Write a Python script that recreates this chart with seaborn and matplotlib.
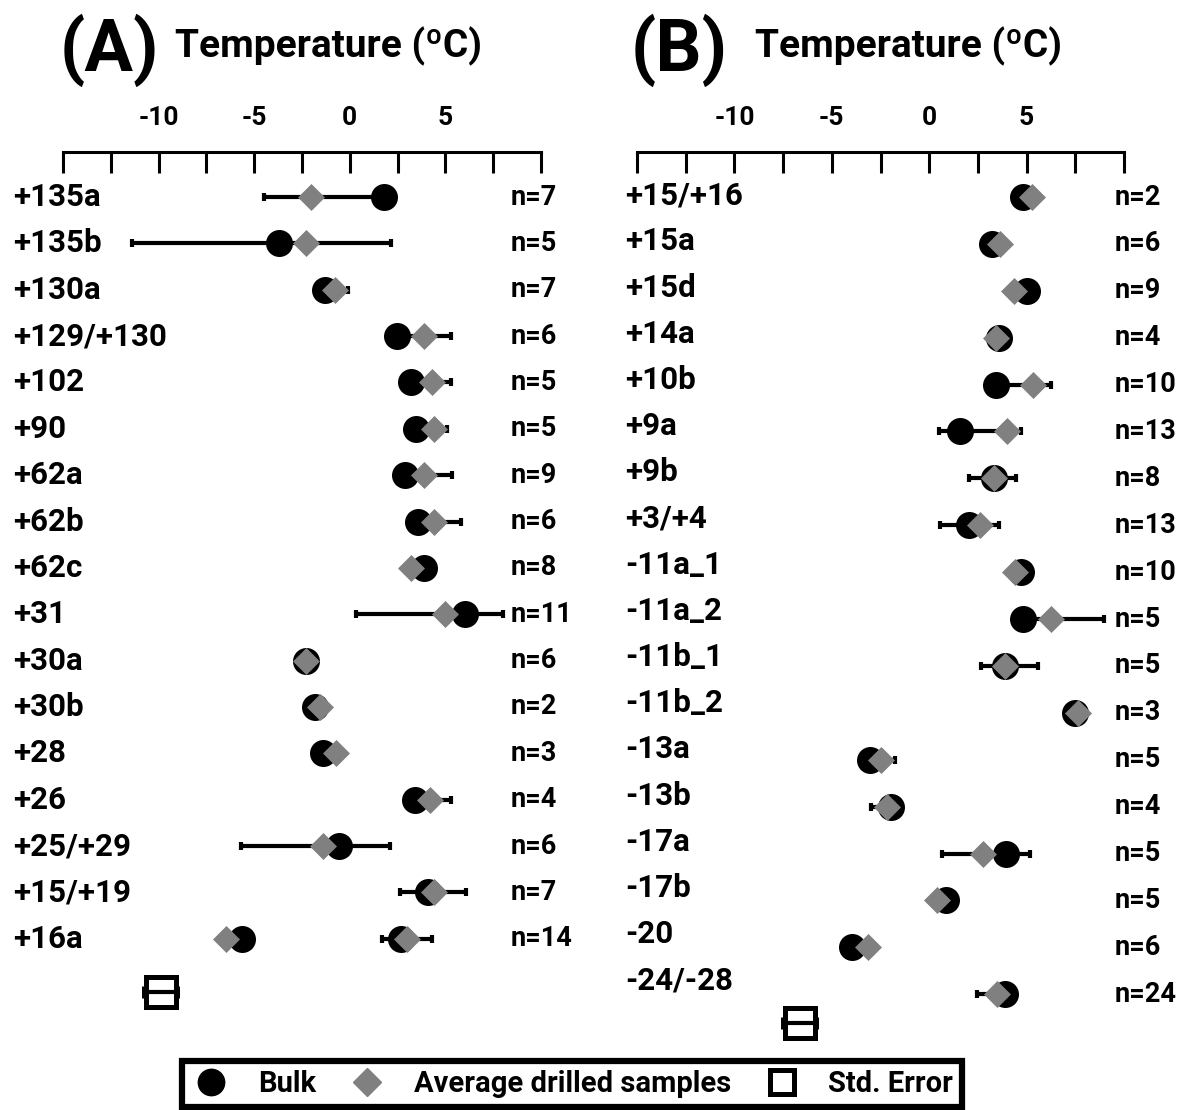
import numpy as np
import pandas as pd
import matplotlib
matplotlib.use("Agg")
import matplotlib.pyplot as plt
import matplotlib.transforms as mtransforms
from matplotlib.lines import Line2D
import seaborn as sns

nan = np.nan

# ---- Panel A -------------------------------------------------------------
labels_a = ["+135a", "+135b", "+130a", "+129/+130", "+102", "+90", "+62a", "+62b",
            "+62c", "+31", "+30a", "+30b", "+28", "+26", "+25/+29", "+15/+19", "+16a"]
n_a = [7, 5, 7, 6, 5, 5, 9, 6, 8, 11, 6, 2, 3, 4, 6, 7, 14]
bulk_a = [1.8, -3.7, -1.3, 2.45, 3.2, 3.45, 2.9, 3.55, 3.9, 6.0, -2.3, -1.8,
          -1.4, 3.4, -0.55, 4.1, 2.7]
drill_a = [-2.05, -2.3, -0.8, 3.9, 4.3, 4.4, 3.9, 4.4, 3.2, 5.0, -2.3, -1.55,
           -0.7, 4.2, -1.4, 4.4, 3.0]
err_lo_a = [-4.5, -11.4, -1.3, 2.5, 3.2, 3.5, 2.9, 3.6, nan, 0.3, nan, nan,
            nan, 3.4, -5.7, 2.6, 1.7]
err_hi_a = [1.7, 2.15, -0.1, 5.3, 5.3, 5.1, 5.35, 5.8, nan, 8.0, nan, nan,
            nan, 5.3, 2.1, 6.1, 4.3]
# second measurement pair on the same horizon
extra_labels_a = ["+16a"]
extra_bulk_a = [-5.65]
extra_drill_a = [-6.45]
std_err_key_a = -9.9

# ---- Panel B -------------------------------------------------------------
labels_b = ["+15/+16", "+15a", "+15d", "+14a", "+10b", "+9a", "+9b", "+3/+4",
            "-11a_1", "-11a_2", "-11b_1", "-11b_2", "-13a", "-13b", "-17a",
            "-17b", "-20", "-24/-28"]
n_b = [2, 6, 9, 4, 10, 13, 8, 13, 10, 5, 5, 3, 5, 4, 5, 5, 6, 24]
bulk_b = [4.8, 3.2, 5.0, 3.6, 3.45, 1.6, 3.35, 2.05, 4.7, 4.8, 3.9, 7.5,
          -3.05, -1.95, 3.95, 0.85, -3.95, 3.9]
drill_b = [5.3, 3.65, 4.35, 3.45, 5.35, 4.0, 3.35, 2.6, 4.4, 6.25, 3.9, 7.65,
           -2.45, -2.15, 2.75, 0.4, -3.15, 3.5]
err_lo_b = [nan, nan, nan, nan, 3.5, 0.5, 2.05, 0.55, nan, 4.9, 2.65, nan,
            -3.0, -3.0, 0.65, nan, nan, 2.45]
err_hi_b = [nan, nan, nan, nan, 6.25, 4.7, 4.45, 3.6, nan, 8.95, 5.6, nan,
            -1.75, -2.0, 5.2, nan, nan, 3.9]
extra_labels_b = []
extra_bulk_b = []
extra_drill_b = []
std_err_key_b = -6.65

tick_values = np.arange(-15, 10.01, 2.5)
tick_labels = {-10: "-10", -5: "-5", 0: "0", 5: "5"}
legend_labels = ["Bulk", "Average drilled samples", "Std. Error"]

BULK_COLOR = "black"
DRILL_COLOR = "#808080"

sns.set_theme(style="white")
plt.rcParams["font.family"] = ["Roboto", "DejaVu Sans"]
plt.rcParams["font.weight"] = "bold"
plt.rcParams["axes.unicode_minus"] = False
plt.rcParams["text.color"] = "black"
plt.rcParams["xtick.color"] = "black"
plt.rcParams["axes.labelcolor"] = "black"

W, H = 1195, 1110
fig = plt.figure(figsize=(W / 100, H / 100), dpi=100)


def draw_panel(ax, labels, n, bulk, drill, lo, hi, ex_labels, ex_bulk, ex_drill,
               key_x, key_row, ylim, label_shift, label_x, n_x):
    rows = np.arange(len(labels), dtype=float)
    idx = {lab: i for i, lab in enumerate(labels)}

    # error bars underneath the symbols
    lo = np.asarray(lo, float)
    hi = np.asarray(hi, float)
    m = ~np.isnan(lo)
    ax.errorbar((lo[m] + hi[m]) / 2, rows[m], xerr=(hi[m] - lo[m]) / 2,
                fmt="none", ecolor="black", elinewidth=3.0, capsize=2.8,
                capthick=3.0, zorder=1)

    ex_rows = [idx[l] for l in ex_labels]
    df_bulk = pd.DataFrame({"temp": list(bulk) + list(ex_bulk),
                            "row": list(rows) + ex_rows})
    df_drill = pd.DataFrame({"temp": list(drill) + list(ex_drill),
                             "row": list(rows) + ex_rows})
    sns.scatterplot(data=df_bulk, x="temp", y="row", color=BULK_COLOR, marker="o",
                    s=378, linewidth=0, ax=ax, zorder=2, legend=False)
    sns.scatterplot(data=df_drill, x="temp", y="row", color=DRILL_COLOR, marker="D",
                    s=189, linewidth=0, ax=ax, zorder=3, legend=False)

    # standard error key symbol
    ax.errorbar([key_x], [key_row], xerr=[0.86], fmt="s", ms=21, mfc="none",
                mec="black", mew=3.6, ecolor="black", elinewidth=3.0, capsize=4,
                capthick=3.0, clip_on=False, zorder=4)

    ax.set_xlim(-15, 10)
    ax.set_ylim(*ylim)
    ax.set_xlabel("")
    ax.set_ylabel("")
    ax.set_yticks([])
    ax.xaxis.tick_top()
    ax.set_xticks(tick_values)
    ax.set_xticklabels([tick_labels.get(int(t) if float(t).is_integer() else None, "")
                        for t in tick_values])
    ax.tick_params(axis="x", direction="in", length=15, width=2.2, pad=16,
                   labelsize=19, top=True, bottom=False, labeltop=True,
                   labelbottom=False)
    for lab in ax.get_xticklabels():
        lab.set_fontweight("bold")
    for side in ["bottom", "left", "right"]:
        ax.spines[side].set_visible(False)
    ax.spines["top"].set_linewidth(2.2)
    ax.spines["top"].set_color("black")

    trans = mtransforms.blended_transform_factory(ax.transAxes, ax.transData)
    for i, (lab, cnt) in enumerate(zip(labels, n)):
        ax.text(label_x, label_shift(i), lab, transform=trans, ha="left",
                va="center", fontsize=22.5, fontweight="bold", clip_on=False)
        ax.text(n_x, i, f"n={cnt}", transform=trans, ha="left", va="center",
                fontsize=19.5, fontweight="bold", clip_on=False)


ax_a = fig.add_axes([63 / W, 1 - 1050 / H, 478 / W, (1050 - 152) / H])
ax_b = fig.add_axes([637 / W, 1 - 1050 / H, 487 / W, (1050 - 152) / H])

draw_panel(ax_a, labels_a, n_a, bulk_a, drill_a, err_lo_a, err_hi_a,
           extra_labels_a, extra_bulk_a, extra_drill_a,
           std_err_key_a, 17.15, (18.40, -0.972), lambda i: i, -0.1046, 0.937)
draw_panel(ax_b, labels_b, n_b, bulk_b, drill_b, err_lo_b, err_hi_b,
           extra_labels_b, extra_bulk_b, extra_drill_b,
           std_err_key_b, 17.62, (18.19, -0.96), lambda i: -0.04 + 0.985 * i,
           -0.0246, 0.981)

# panel letters and axis titles
for x_letter, letter, x_title in [(60, "(A)", 175), (631, "(B)", 755)]:
    fig.text(x_letter / W, 1 - 50 / H, letter, fontsize=52, fontweight="bold",
             ha="left", va="center")
    fig.text(x_title / W, 1 - 46 / H, "Temperature (ºC)", fontsize=28,
             fontweight="bold", ha="left", va="center")

handles = [
    Line2D([], [], marker="o", color=BULK_COLOR, linestyle="none", markersize=19),
    Line2D([], [], marker="D", color=DRILL_COLOR, linestyle="none", markersize=14),
    Line2D([], [], marker="s", markerfacecolor="white", markeredgecolor="black",
           markeredgewidth=3.6, linestyle="none", markersize=17),
]
leg = fig.legend(handles, legend_labels, ncol=3, loc="center",
                 bbox_to_anchor=(572 / W, 1 - 1084 / H), frameon=True,
                 fancybox=False, edgecolor="black", framealpha=1.0, fontsize=21,
                 handletextpad=0.9, columnspacing=1.05, borderpad=0.3,
                 handlelength=1.4, borderaxespad=0)
leg.get_frame().set_linewidth(4.5)
for t in leg.get_texts():
    t.set_fontweight("bold")

fig.savefig("out.png", dpi=100, facecolor="white")
